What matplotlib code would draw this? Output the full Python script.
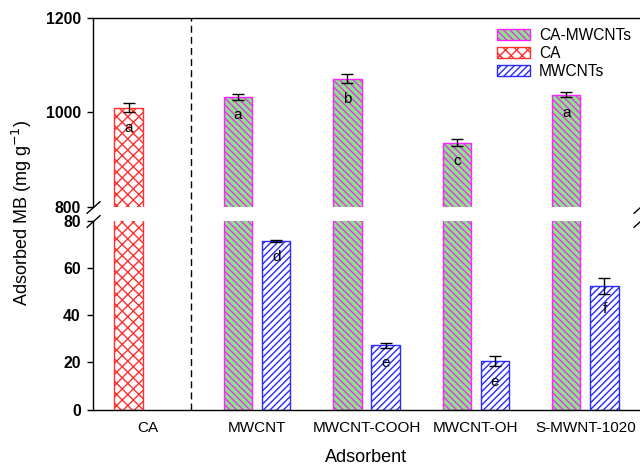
import numpy as np
import matplotlib
matplotlib.use('Agg')
import matplotlib.pyplot as plt
from matplotlib.lines import Line2D
from matplotlib.patches import Patch
from matplotlib import transforms

plt.rcParams['font.family'] = ['Liberation Sans', 'DejaVu Sans']
plt.rcParams['hatch.linewidth'] = 1.0

# adsorption capacity of methylene blue (mg/g)
groups = ['CA', 'MWCNT', 'MWCNT-COOH', 'MWCNT-OH', 'S-MWNT-1020']
ca_value = 1010
ca_err = 10
ca_letter = 'a'
composite_values = [1032, 1071, 936, 1037]
composite_err = [6, 10, 7, 5]
composite_letters = ['a', 'b', 'c', 'a']
mwcnt_values = [71.5, 27.2, 20.5, 52.4]
mwcnt_err = [0.4, 1.1, 2.2, 3.4]
mwcnt_letters = ['d', 'e', 'e', 'f']

green = '#84ea84'
magenta = '#ff22ff'
red = '#ff3030'
blue = '#2a2aff'
hatch_comp = '\\' * 5
hatch_ca = 'xxx'
hatch_cnt = '/////'

width = 0.26
off = 0.175
x = np.arange(len(groups))

fig = plt.figure(figsize=(6.4, 4.65), dpi=100)
ax_hi = fig.add_axes([0.1453, 0.5548, 0.8547, 0.4071])
ax_lo = fig.add_axes([0.1453, 0.1189, 0.8547, 0.4069])

for ax in (ax_hi, ax_lo):
    ax.bar(x[0] - off, ca_value, width, color='white', edgecolor=red,
           hatch=hatch_ca, linewidth=1.0, label='CA')
    ax.bar(x[1:] - off, composite_values, width, color=green, edgecolor=magenta,
           hatch=hatch_comp, linewidth=1.0, label='CA-MWCNTs')
    ax.bar(x[1:] + off, mwcnt_values, width, color='white', edgecolor=blue,
           hatch=hatch_cnt, linewidth=1.0, label='MWCNTs')
    ax.set_xlim(-0.5, 4.5)
    ax.spines['right'].set_visible(False)

# error bars and significance letters
ax_hi.errorbar(x[0] - off, ca_value, yerr=ca_err, fmt='none', ecolor='black',
               elinewidth=1.0, capsize=4.3, capthick=1.0)
ax_hi.errorbar(x[1:] - off, composite_values, yerr=composite_err, fmt='none',
               ecolor='black', elinewidth=1.0, capsize=4.3, capthick=1.0)
ax_lo.errorbar(x[1:] + off, mwcnt_values, yerr=mwcnt_err, fmt='none',
               ecolor='black', elinewidth=1.0, capsize=4.3, capthick=1.0)

ax_hi.annotate(ca_letter, (x[0] - off, ca_value - ca_err), xytext=(0, -6),
               textcoords='offset points', ha='center', va='top', fontsize=11)
for xi, v, e, t in zip(x[1:] - off, composite_values, composite_err, composite_letters):
    ax_hi.annotate(t, (xi, v - e), xytext=(0, -6), textcoords='offset points',
                   ha='center', va='top', fontsize=11)
for xi, v, e, t in zip(x[1:] + off, mwcnt_values, mwcnt_err, mwcnt_letters):
    ax_lo.annotate(t, (xi, v - e), xytext=(0, -6), textcoords='offset points',
                   ha='center', va='top', fontsize=11)

# broken y axis
ax_hi.set_ylim(800, 1200)
ax_hi.set_yticks([800, 1000, 1200])
ax_hi.spines['bottom'].set_visible(False)
ax_hi.tick_params(axis='x', bottom=False, labelbottom=False)

ax_lo.set_ylim(0, 80)
ax_lo.set_yticks([0, 20, 40, 60, 80])
ax_lo.spines['top'].set_visible(False)
ax_lo.set_xticks(x)
ax_lo.set_xticklabels(groups, fontsize=11)
ax_lo.tick_params(axis='x', length=0, pad=8)

for ax in (ax_hi, ax_lo):
    ax.tick_params(axis='y', direction='out', length=4.3, width=1.0, pad=4.5)
    for lbl in ax.get_yticklabels():
        lbl.set_fontweight('bold')
        lbl.set_fontsize(11.3)
    for s in ax.spines.values():
        s.set_linewidth(1.0)

d = 0.9
kw = dict(marker=[(-1, -d), (1, d)], markersize=10, linestyle='none',
          color='k', mec='k', mew=1, clip_on=False)
ax_hi.plot([0, 1], [0, 0], transform=ax_hi.transAxes, **kw)
ax_lo.plot([0, 1], [1, 1], transform=ax_lo.transAxes, **kw)

# dashed separator between CA and composites, spanning both panels
trans = transforms.blended_transform_factory(ax_lo.transData, fig.transFigure)
fig.add_artist(Line2D([0.4, 0.4], [0.1189, 0.9619], transform=trans,
                      color='black', linewidth=1.0, linestyle=(0, (5, 3))))

handles = [
    Patch(facecolor=green, edgecolor=magenta, hatch=hatch_comp, label='CA-MWCNTs'),
    Patch(facecolor='white', edgecolor=red, hatch=hatch_ca, label='CA'),
    Patch(facecolor='white', edgecolor=blue, hatch=hatch_cnt, label='MWCNTs'),
]
fig.legend(handles=handles, loc='upper left', bbox_to_anchor=(497 / 640, 1 - 28 / 465),
           frameon=False, fontsize=11.2, handlelength=2.1, handleheight=0.7,
           handletextpad=0.6, labelspacing=0.2, borderpad=0, borderaxespad=0)

fig.text(0.034, 1 - 213 / 465, 'Adsorbed MB (mg g$^{-1}$)', rotation=90,
         ha='center', va='center', fontsize=13)
fig.text(366 / 640, 1 - 457 / 465, 'Adsorbent', ha='center', va='center', fontsize=13)

fig.savefig('out.png', dpi=100)
